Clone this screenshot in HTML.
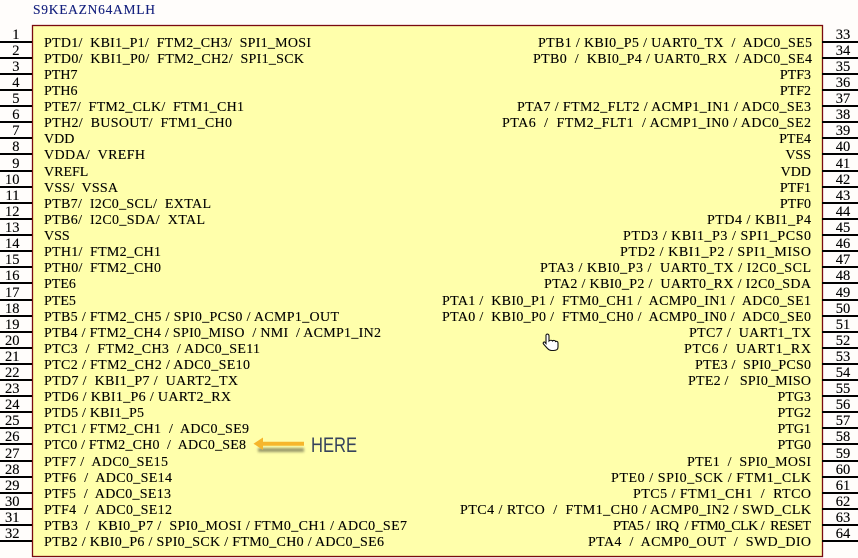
<!DOCTYPE html>
<html><head><meta charset="utf-8"><style>
html,body{margin:0;padding:0;background:#fffdfb}
svg{display:block}
text{font-family:"Liberation Serif",serif;font-size:14px;fill:#000;stroke:#000;stroke-width:.12px;white-space:pre}
.r{text-anchor:end}
.n{text-anchor:middle;font-size:14.5px}
.l{text-anchor:end;font-size:14.5px}
</style></head><body>
<svg width="858" height="558" viewBox="0 0 858 558" xmlns="http://www.w3.org/2000/svg" xml:space="preserve">
<defs><filter id="sh" x="-20%" y="-100%" width="140%" height="300%"><feGaussianBlur stdDeviation="1.4"/></filter></defs>
<rect width="858" height="558" fill="#fffdfb"/>
<text x="33" y="14" style="fill:#14207e;stroke:#14207e;font-size:13.5px" textLength="122">S9KEAZN64AMLH</text>
<rect x="32.5" y="25.5" width="790" height="531" fill="#ffffab" stroke="#7a0a10" stroke-width="1.3"/>
<g stroke="#000" stroke-width="2">
<path d="M0 42H32M0 58H32M0 74H32M0 90H32M0 106H32M0 122H32M0 138H32M0 154H32M0 171H32M0 187H32M0 203H32M0 219H32M0 235H32M0 251H32M0 267H32M0 283H32M0 300H32M0 316H32M0 332H32M0 348H32M0 364H32M0 380H32M0 396H32M0 412H32M0 428H32M0 444H32M0 461H32M0 477H32M0 493H32M0 509H32M0 525H32M0 541H32"/>
<path d="M822 42H858M822 58H858M822 74H858M822 90H858M822 106H858M822 122H858M822 138H858M822 154H858M822 171H858M822 187H858M822 203H858M822 219H858M822 235H858M822 251H858M822 267H858M822 283H858M822 300H858M822 316H858M822 332H858M822 348H858M822 364H858M822 380H858M822 396H858M822 412H858M822 428H858M822 444H858M822 461H858M822 477H858M822 493H858M822 509H858M822 525H858M822 541H858"/>
</g>
<g>
<text class="l" x="19.500" y="39">1</text><text class="l" x="19.500" y="55">2</text><text class="l" x="19.500" y="71">3</text><text class="l" x="19.500" y="87">4</text><text class="l" x="19.500" y="103">5</text><text class="l" x="19.500" y="119">6</text><text class="l" x="19.500" y="135">7</text><text class="l" x="19.500" y="151">8</text><text class="l" x="19.500" y="168">9</text><text class="l" x="19.500" y="184">10</text><text class="l" x="19.500" y="200">11</text><text class="l" x="19.500" y="216">12</text><text class="l" x="19.500" y="232">13</text><text class="l" x="19.500" y="248">14</text><text class="l" x="19.500" y="264">15</text><text class="l" x="19.500" y="280">16</text><text class="l" x="19.500" y="297">17</text><text class="l" x="19.500" y="313">18</text><text class="l" x="19.500" y="329">19</text><text class="l" x="19.500" y="345">20</text><text class="l" x="19.500" y="361">21</text><text class="l" x="19.500" y="377">22</text><text class="l" x="19.500" y="393">23</text><text class="l" x="19.500" y="409">24</text><text class="l" x="19.500" y="425">25</text><text class="l" x="19.500" y="441">26</text><text class="l" x="19.500" y="458">27</text><text class="l" x="19.500" y="474">28</text><text class="l" x="19.500" y="490">29</text><text class="l" x="19.500" y="506">30</text><text class="l" x="19.500" y="522">31</text><text class="l" x="19.500" y="538">32</text>
<text class="n" x="843" y="39">33</text><text class="n" x="843" y="55">34</text><text class="n" x="843" y="71">35</text><text class="n" x="843" y="87">36</text><text class="n" x="843" y="103">37</text><text class="n" x="843" y="119">38</text><text class="n" x="843" y="135">39</text><text class="n" x="843" y="151">40</text><text class="n" x="843" y="168">41</text><text class="n" x="843" y="184">42</text><text class="n" x="843" y="200">43</text><text class="n" x="843" y="216">44</text><text class="n" x="843" y="232">45</text><text class="n" x="843" y="248">46</text><text class="n" x="843" y="264">47</text><text class="n" x="843" y="280">48</text><text class="n" x="843" y="297">49</text><text class="n" x="843" y="313">50</text><text class="n" x="843" y="329">51</text><text class="n" x="843" y="345">52</text><text class="n" x="843" y="361">53</text><text class="n" x="843" y="377">54</text><text class="n" x="843" y="393">55</text><text class="n" x="843" y="409">56</text><text class="n" x="843" y="425">57</text><text class="n" x="843" y="441">58</text><text class="n" x="843" y="458">59</text><text class="n" x="843" y="474">60</text><text class="n" x="843" y="490">61</text><text class="n" x="843" y="506">62</text><text class="n" x="843" y="522">63</text><text class="n" x="843" y="538">64</text>
</g>
<g>
<text x="44" y="47" textLength="267">PTD1/  KBI1_P1/  FTM2_CH3/  SPI1_MOSI</text>
<text x="44" y="63" textLength="260">PTD0/  KBI1_P0/  FTM2_CH2/  SPI1_SCK</text>
<text x="44" y="79">PTH7</text>
<text x="44" y="95">PTH6</text>
<text x="44" y="111" textLength="200">PTE7/  FTM2_CLK/  FTM1_CH1</text>
<text x="44" y="127" textLength="188">PTH2/  BUSOUT/  FTM1_CH0</text>
<text x="44" y="143">VDD</text>
<text x="44" y="159" textLength="101">VDDA/  VREFH</text>
<text x="44" y="176">VREFL</text>
<text x="44" y="192" textLength="74">VSS/  VSSA</text>
<text x="44" y="208" textLength="167">PTB7/  I2C0_SCL/  EXTAL</text>
<text x="44" y="224" textLength="161">PTB6/  I2C0_SDA/  XTAL</text>
<text x="44" y="240">VSS</text>
<text x="44" y="256" textLength="117">PTH1/  FTM2_CH1</text>
<text x="44" y="272" textLength="117">PTH0/  FTM2_CH0</text>
<text x="44" y="288">PTE6</text>
<text x="44" y="305">PTE5</text>
<text x="44" y="321" textLength="295">PTB5 / FTM2_CH5 / SPI0_PCS0 / ACMP1_OUT</text>
<text x="44" y="337" textLength="337">PTB4 / FTM2_CH4 / SPI0_MISO  / NMI  / ACMP1_IN2</text>
<text x="44" y="353" textLength="216">PTC3  /  FTM2_CH3  / ADC0_SE11</text>
<text x="44" y="369" textLength="206">PTC2 / FTM2_CH2 / ADC0_SE10</text>
<text x="44" y="385" textLength="194">PTD7 /  KBI1_P7 /  UART2_TX</text>
<text x="44" y="401" textLength="187">PTD6 / KBI1_P6 / UART2_RX</text>
<text x="44" y="417" textLength="100">PTD5 / KBI1_P5</text>
<text x="44" y="433" textLength="205">PTC1 / FTM2_CH1  /  ADC0_SE9</text>
<text x="44" y="449" textLength="202">PTC0 / FTM2_CH0  /  ADC0_SE8</text>
<text x="44" y="466" textLength="124">PTF7 /  ADC0_SE15</text>
<text x="44" y="482" textLength="128">PTF6  /  ADC0_SE14</text>
<text x="44" y="498" textLength="127">PTF5  /  ADC0_SE13</text>
<text x="44" y="514" textLength="128">PTF4  /  ADC0_SE12</text>
<text x="44" y="530" textLength="363">PTB3  /  KBI0_P7 /  SPI0_MOSI / FTM0_CH1 / ADC0_SE7</text>
<text x="44" y="546" textLength="340">PTB2 / KBI0_P6 / SPI0_SCK / FTM0_CH0 / ADC0_SE6</text>
</g>
<g>
<text x="538" y="47" textLength="274">PTB1 / KBI0_P5 / UART0_TX  /  ADC0_SE5</text>
<text x="533" y="63" textLength="279">PTB0  /  KBI0_P4 / UART0_RX  / ADC0_SE4</text>
<text class="r" x="811" y="79">PTF3</text>
<text class="r" x="811" y="95">PTF2</text>
<text x="517" y="111" textLength="294">PTA7 / FTM2_FLT2 / ACMP1_IN1 / ADC0_SE3</text>
<text x="502" y="127" textLength="309">PTA6  /  FTM2_FLT1  / ACMP1_IN0 / ADC0_SE2</text>
<text class="r" x="811" y="143">PTE4</text>
<text class="r" x="811" y="159">VSS</text>
<text class="r" x="811" y="176">VDD</text>
<text class="r" x="811" y="192">PTF1</text>
<text class="r" x="811" y="208">PTF0</text>
<text x="707" y="224" textLength="104">PTD4 / KBI1_P4</text>
<text x="623" y="240" textLength="188">PTD3 / KBI1_P3 / SPI1_PCS0</text>
<text x="620" y="256" textLength="191">PTD2 / KBI1_P2 / SPI1_MISO</text>
<text x="540" y="272" textLength="271">PTA3 / KBI0_P3 /  UART0_TX / I2C0_SCL</text>
<text x="544" y="288" textLength="267">PTA2 / KBI0_P2 /  UART0_RX / I2C0_SDA</text>
<text x="442" y="305" textLength="369">PTA1 /  KBI0_P1 /  FTM0_CH1 /  ACMP0_IN1 /  ADC0_SE1</text>
<text x="442" y="321" textLength="369">PTA0 /  KBI0_P0 /  FTM0_CH0 /  ACMP0_IN0 /  ADC0_SE0</text>
<text x="689" y="337" textLength="122">PTC7 /  UART1_TX</text>
<text x="684" y="353" textLength="127">PTC6 /  UART1_RX</text>
<text x="695" y="369" textLength="116">PTE3 /  SPI0_PCS0</text>
<text x="688" y="385" textLength="123">PTE2 /   SPI0_MISO</text>
<text class="r" x="811" y="401">PTG3</text>
<text class="r" x="811" y="417">PTG2</text>
<text class="r" x="811" y="433">PTG1</text>
<text class="r" x="811" y="449">PTG0</text>
<text x="687" y="466" textLength="124">PTE1  /  SPI0_MOSI</text>
<text x="611" y="482" textLength="200">PTE0 / SPI0_SCK / FTM1_CLK</text>
<text x="633" y="498" textLength="178">PTC5 / FTM1_CH1  /  RTCO</text>
<text x="460" y="514" textLength="351">PTC4 / RTCO  /  FTM1_CH0 / ACMP0_IN2 / SWD_CLK</text>
<text x="613" y="530" textLength="198">PTA5 /  IRQ  / FTM0_CLK /  RESET</text>
<text x="588" y="546" textLength="223">PTA4  /  ACMP0_OUT  /  SWD_DIO</text>
</g>
<path d="M258 448H304V452H258Z" fill="#55553c" opacity=".6" filter="url(#sh)"/>
<path d="M253.500 443.700L263 437.500V441.700H304V445.700H263V450Z" fill="#f6b62c"/>
<text x="311" y="452" textLength="46" lengthAdjust="spacingAndGlyphs" style="font-family:'Liberation Sans',sans-serif;font-size:21px;fill:#35425c;stroke:none">HERE</text>
<path d="M546 335c1-1.500 3-1 3 1v5c1-1 3-1 3.500 0c1-1 3-.5 3 .5c1-.5 2.500 0 2.500 1.500v4c0 3-2 3.500-4.500 3.500h-2c-2 0-3-1-4-2l-4-4.500c-1-1.500 1-3 1.500-1.500l1 1z" fill="#fff" stroke="#111" stroke-width="1.100"/>
</svg>
</body></html>
